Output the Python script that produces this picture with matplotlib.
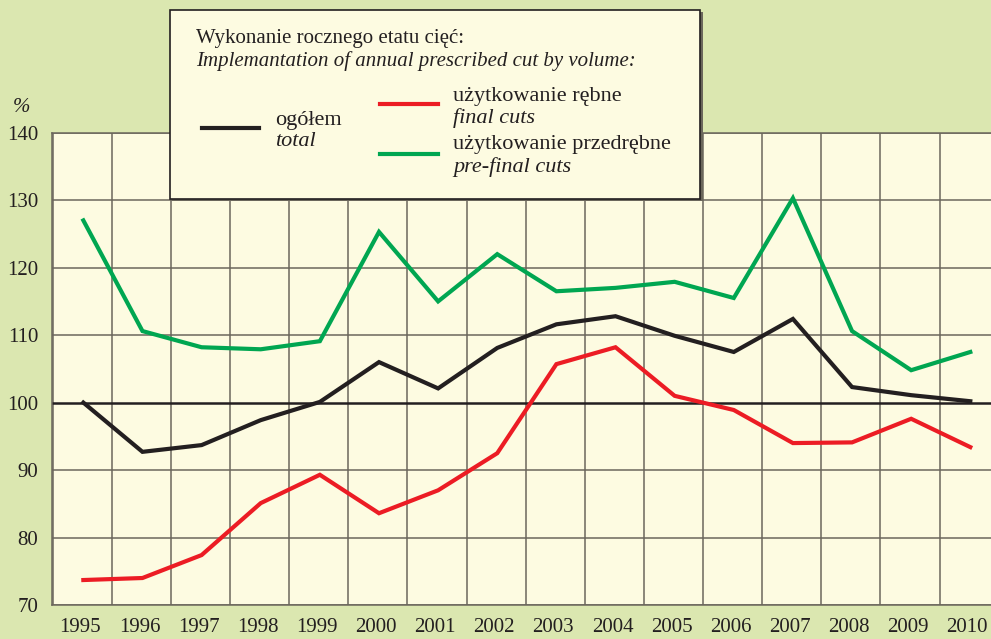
import matplotlib
matplotlib.use("Agg")
from matplotlib import pyplot as plt
from matplotlib.patches import Rectangle
from matplotlib.lines import Line2D
import numpy as np

plt.rcParams['font.family'] = ['Liberation Serif', 'DejaVu Serif']

years = ['1995', '1996', '1997', '1998', '1999', '2000', '2001', '2002',
         '2003', '2004', '2005', '2006', '2007', '2008', '2009', '2010']
ogolem = [100.0, 92.7, 93.7, 97.4, 100.1, 106.0, 102.1, 108.1,
          111.6, 112.8, 109.9, 107.5, 112.4, 102.3, 101.1, 100.2]
rebne = [73.7, 74.0, 77.4, 85.1, 89.3, 83.6, 87.0, 92.5,
         105.7, 108.2, 101.0, 98.9, 94.0, 94.1, 97.6, 93.4]
przedrebne = [127.0, 110.6, 108.2, 107.9, 109.1, 125.3, 115.0, 122.0,
              116.5, 117.0, 117.9, 115.5, 130.3, 110.6, 104.8, 107.5]

bg = '#dbe7b0'
panel = '#fdfbe1'
c_black = '#231f20'
c_red = '#ec1c24'
c_green = '#00a651'
grid_c = '#6b675c'

W, H = 991, 639
fig = plt.figure(figsize=(W / 100, H / 100), dpi=100, facecolor=bg)
ax = fig.add_axes([52 / W, 1 - 605 / H, 1 - 52 / W, (605 - 132.7) / H])
ax.set_facecolor(panel)

x = np.arange(len(years))
ax.set_xlim(-0.53, 15.35)
ax.set_ylim(70, 140)

for v in np.arange(len(years)) - 0.52:
    ax.axvline(v, color=grid_c, lw=1.1, zorder=1)
for v in range(70, 141, 10):
    if v == 100:
        ax.axhline(v, color=c_black, lw=1.8, zorder=2)
    else:
        ax.axhline(v, color=grid_c, lw=1.1, zorder=1)

ax.plot(x, przedrebne, color=c_green, lw=3, zorder=3, solid_joinstyle='miter')
ax.plot(x, ogolem, color=c_black, lw=3, zorder=3, solid_joinstyle='miter')
ax.plot(x, rebne, color=c_red, lw=3, zorder=3, solid_joinstyle='miter')

for s in ax.spines.values():
    s.set_color(grid_c)
    s.set_linewidth(1.1)
ax.spines['right'].set_visible(False)

ax.set_xticks(x - 0.05)
ax.set_xticklabels(years)
ax.set_yticks(range(70, 141, 10))
ax.tick_params(length=0, labelsize=15, colors='#231f20')
ax.tick_params(axis='y', pad=10)
ax.tick_params(axis='x', pad=9)

def fx(px):
    return px / W

def fy(py):
    return 1 - py / H

fig.text(fx(22), fy(108), '%', fontsize=15, style='italic', ha='center', va='center', color=c_black)

# legend box with shadow
fig.add_artist(Rectangle((fx(172), fy(201)), fx(701) - fx(170), fy(10) - fy(199),
                         transform=fig.transFigure, facecolor='#6b675c', edgecolor='none', zorder=4))
fig.add_artist(Rectangle((fx(170), fy(199)), fx(700) - fx(170), fy(10) - fy(199),
                         transform=fig.transFigure, facecolor=panel, edgecolor=c_black, lw=1.2, zorder=5))

tt = dict(fontsize=15, color=c_black, zorder=6, va='center')
tk = dict(fontsize=16, color=c_black, zorder=6, va='center')
fig.text(fx(196), fy(39), 'Wykonanie rocznego etatu cięć:', **tt)
fig.text(fx(196), fy(61), 'Implemantation of annual prescribed cut by volume:', style='italic', **tt)

fig.add_artist(Line2D([fx(202), fx(259)], [fy(128), fy(128)], transform=fig.transFigure,
                      color=c_black, lw=3, zorder=6))
fig.add_artist(Line2D([fx(380), fx(438)], [fy(104), fy(104)], transform=fig.transFigure,
                      color=c_red, lw=3, zorder=6))
fig.add_artist(Line2D([fx(380), fx(438)], [fy(154), fy(154)], transform=fig.transFigure,
                      color=c_green, lw=3, zorder=6))

fig.text(fx(275), fy(120), 'ogółem', **tk)
fig.text(fx(275), fy(141), 'total', style='italic', **tk)
fig.text(fx(453), fy(96), 'użytkowanie rębne', **tk)
fig.text(fx(453), fy(118), 'final cuts', style='italic', **tk)
fig.text(fx(453), fy(145), 'użytkowanie przedrębne', **tk)
fig.text(fx(453), fy(167), 'pre-final cuts', style='italic', **tk)

fig.savefig('out.png', dpi=100, facecolor=bg)
